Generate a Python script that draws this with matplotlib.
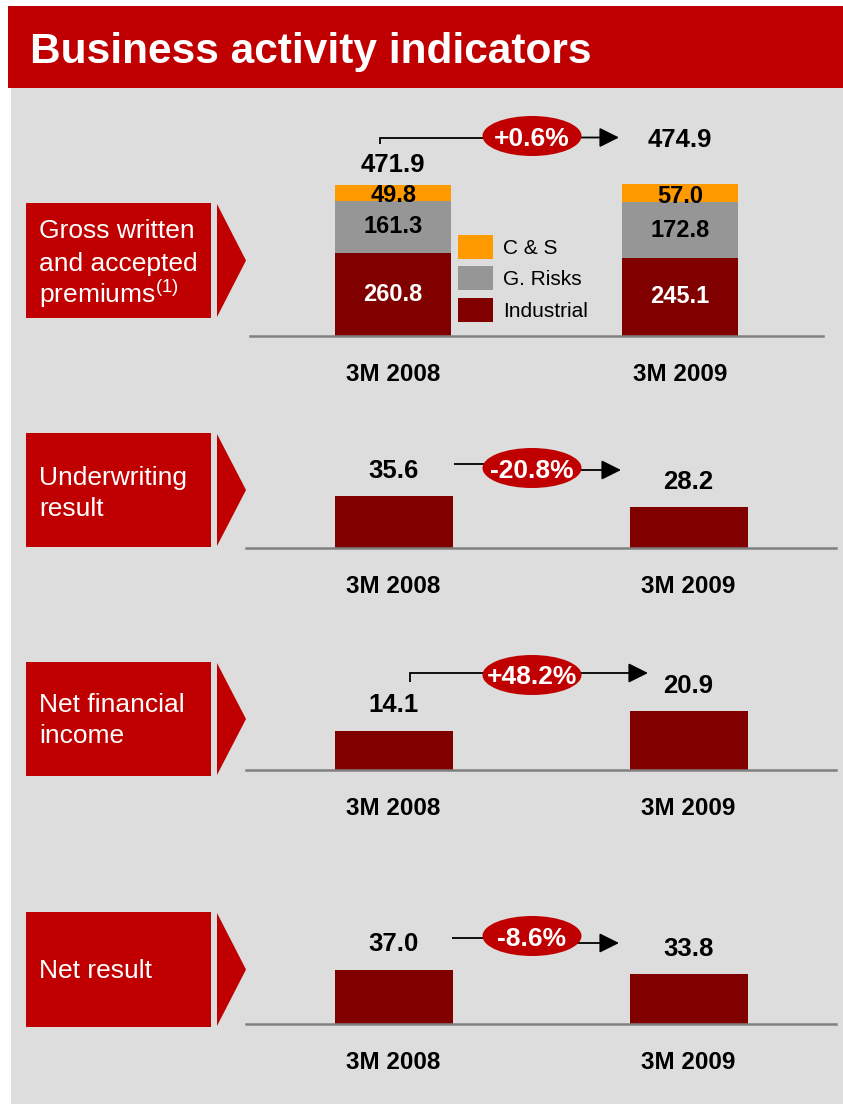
import numpy as np
import matplotlib
matplotlib.use('Agg')
import matplotlib.pyplot as plt
from matplotlib.patches import Rectangle, Polygon, Ellipse

plt.rcParams['font.family'] = ['Liberation Sans', 'DejaVu Sans']
plt.rcParams['mathtext.fontset'] = 'custom'
plt.rcParams['mathtext.rm'] = 'Liberation Sans'

# data
periods = ['3M 2008', '3M 2009']
industrial = [260.8, 245.1]
g_risks = [161.3, 172.8]
c_and_s = [49.8, 57.0]
premium_totals = [471.9, 474.9]
premium_change = '+0.6%'
underwriting = [35.6, 28.2]
underwriting_change = '-20.8%'
net_financial = [14.1, 20.9]
net_financial_change = '+48.2%'
net_result = [37.0, 33.8]
net_result_change = '-8.6%'

RED = '#C00000'
DARKRED = '#800000'
GREY = '#969696'
ORANGE = '#FF9900'
BG = '#DDDDDD'
W, H = 843, 1109

fig = plt.figure(figsize=(W / 100, H / 100), dpi=100)
fig.patch.set_facecolor('white')

# background / decoration layer in pixel coordinates
bg = fig.add_axes([0, 0, 1, 1])
bg.set_xlim(0, W)
bg.set_ylim(H, 0)
bg.axis('off')
bg.add_patch(Rectangle((11, 88), W - 11, 1016, color=BG, lw=0))
bg.add_patch(Rectangle((8, 6), W - 8, 82, color=RED, lw=0))
bg.text(30, 63, 'Business activity indicators', color='white', fontsize=30.5,
        fontweight='bold', va='baseline', ha='left')


def side_label(top, bottom, lines, baselines):
	bg.add_patch(Rectangle((26, top), 185, bottom - top, color=RED, lw=0))
	mid = (top + bottom) / 2
	bg.add_patch(Polygon([(217, top + 1), (246, mid), (217, bottom - 1)],
	                     closed=True, color=RED, lw=0))
	for txt, yb in zip(lines, baselines):
		bg.text(39, yb, txt, color='white', fontsize=19, va='baseline', ha='left')


def change_badge(x0, y0, x1, y1, cy, txt, tick=None):
	# left part of the connector, then arrow from under the badge
	if tick is not None:
		bg.plot([x0, x0, 532], [tick, y0, y0], color='black', lw=1.3,
		        solid_capstyle='butt', solid_joinstyle='miter')
	else:
		bg.plot([x0, 532], [y0, y0], color='black', lw=1.3, solid_capstyle='butt')
	bg.annotate('', xy=(x1, y1), xytext=(532, y1),
	            arrowprops=dict(arrowstyle='-|>,head_length=0.6,head_width=0.3',
	                            color='black', lw=1.3, mutation_scale=20,
	                            shrinkA=0, shrinkB=0), zorder=3)
	bg.add_patch(Ellipse((532, cy), 99, 40, color=RED, lw=0, zorder=4))
	bg.text(532, cy, txt, color='white', fontsize=19, fontweight='bold',
	        ha='center', va='center_baseline', zorder=5)


def bar_axes(x0, x1, base, height_px, units_per_px):
	ax = fig.add_axes([x0 / W, 1 - base / H, (x1 - x0) / W, height_px / H])
	ax.set_facecolor('none')
	ax.set_xlim(-0.5, 1.5)
	ax.set_ylim(0, height_px * units_per_px)
	for s in ['top', 'left', 'right']:
		ax.spines[s].set_visible(False)
	ax.spines['bottom'].set_color('#808080')
	ax.spines['bottom'].set_linewidth(1.8)
	ax.set_yticks([])
	ax.set_xticks([0, 1])
	ax.set_xticklabels(periods, fontsize=17.5, fontweight='bold')
	ax.tick_params(axis='x', length=0, pad=19.5)
	return ax


# panel 1 : premiums
side_label(203, 318, ['Gross written', 'and accepted', r'premiums$^{(1)}$'], [238, 270.5, 303])
change_badge(380, 137.5, 619, 137.5, 136, premium_change, tick=143.5)

ax1 = bar_axes(250, 823, 336, 200, 3.13)
x = np.arange(len(periods))
b_ind = ax1.bar(x, industrial, width=0.405, color=DARKRED, label='Industrial')
b_gr = ax1.bar(x, g_risks, width=0.405, bottom=industrial, color=GREY, label='G. Risks')
b_cs = ax1.bar(x, c_and_s, width=0.405, bottom=np.add(industrial, g_risks),
               color=ORANGE, label='C & S')
ax1.bar_label(b_ind, labels=['%.1f' % v for v in industrial], label_type='center',
              color='white', fontsize=17, fontweight='bold')
ax1.bar_label(b_gr, labels=['%.1f' % v for v in g_risks], label_type='center',
              color='black', fontsize=17, fontweight='bold')
ax1.bar_label(b_cs, labels=['%.1f' % v for v in c_and_s], label_type='center',
              color='black', fontsize=17, fontweight='bold', padding=-2)
total_offsets = [6, 23]
for i, t in enumerate(premium_totals):
	ax1.annotate('%.1f' % t, xy=(i, t), xytext=(0, total_offsets[i]),
	             textcoords='offset points', ha='center', va='bottom',
	             fontsize=18.5, fontweight='bold', annotation_clip=False)
ax1.legend([b_cs, b_gr, b_ind], ['C & S', 'G. Risks', 'Industrial'],
           loc='upper left', bbox_to_anchor=(458 / W, 1 - 235 / H),
           bbox_transform=fig.transFigure, frameon=False, fontsize=15,
           handlelength=1.68, handleheight=1.4, handletextpad=0.5,
           labelspacing=0.35, borderpad=0, borderaxespad=0)


def simple_panel(values, base, upp):
	ax = bar_axes(246, 836, base, 100, upp)
	bars = ax.bar(np.arange(len(periods)), values, width=0.40, color=DARKRED)
	ax.bar_label(bars, labels=['%.1f' % v for v in values], padding=9.5,
	             fontsize=18.5, fontweight='bold')
	return ax


# panel 2 : underwriting result
side_label(433, 547, ['Underwriting', 'result'], [485, 516])
change_badge(454, 464, 621, 470, 468, underwriting_change)
simple_panel(underwriting, 548, 0.69)

# panel 3 : net financial income
side_label(662, 776, ['Net financial', 'income'], [712, 743])
change_badge(410, 673, 648, 673, 675, net_financial_change, tick=682)
simple_panel(net_financial, 770, 0.357)

# panel 4 : net result
side_label(912, 1027, ['Net result'], [978])
change_badge(452, 938, 619, 943, 936, net_result_change)
simple_panel(net_result, 1024, 0.68)

plt.savefig('out.png', dpi=100, facecolor='white')
